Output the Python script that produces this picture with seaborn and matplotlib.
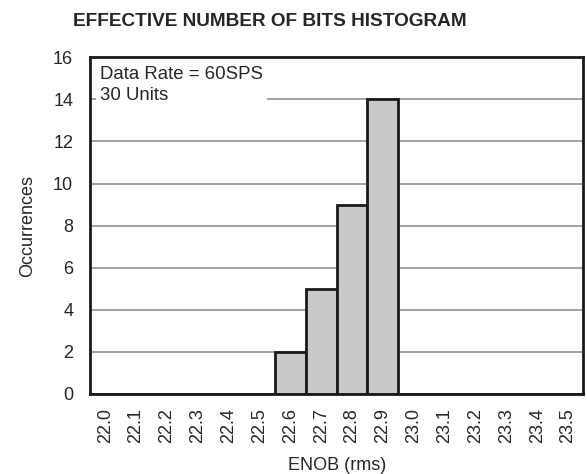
import numpy as np
import pandas as pd
import seaborn as sns
import matplotlib.pyplot as plt
from matplotlib.ticker import FixedLocator

bins = ["22.0", "22.1", "22.2", "22.3", "22.4", "22.5", "22.6", "22.7",
        "22.8", "22.9", "23.0", "23.1", "23.2", "23.3", "23.4", "23.5"]
occurrences = [0, 0, 0, 0, 0, 0, 2, 5, 9, 14, 0, 0, 0, 0, 0, 0]

df = pd.DataFrame({"enob": bins, "count": occurrences})

sns.set_style("white")
plt.rcParams['font.family'] = ['Liberation Sans', 'DejaVu Sans']

fig, ax = plt.subplots(figsize=[5.87, 4.74], dpi=100)
fig.subplots_adjust(left=0.153, right=0.994, top=0.879, bottom=0.169)

ax.set_axisbelow(True)
ax.yaxis.grid(True, color="#8a8a8a", linewidth=1.1)
sns.barplot(data=df, x="enob", y="count", width=1.0, color="#c8c9cb",
            saturation=1, edgecolor="#1a1a1a", linewidth=2, ax=ax)

ax.set_xlim(-0.5, len(bins) - 0.5)
ax.set_ylim(0, 16)
ax.set_yticks(np.arange(0, 17, 2))
ax.tick_params(axis="y", direction="in", length=4, width=1, labelsize=13, pad=12)
ax.set_xticks(range(len(bins)))
ax.set_xticklabels(bins, rotation=90)
ax.tick_params(axis="x", which="major", length=0, labelsize=13, pad=10)
ax.xaxis.set_minor_locator(FixedLocator(np.arange(-0.5, len(bins), 1)))
ax.tick_params(axis="x", which="minor", direction="out", length=4, width=1)

for s in ax.spines.values():
    s.set_linewidth(2)
    s.set_color("#1a1a1a")

ax.set_xlabel("ENOB (rms)", fontsize=13, labelpad=10)
ax.set_ylabel("Occurrences", fontsize=13, labelpad=12)
# title sits a little left of the axes centre in the original
fig.text(0.46, 0.955, "EFFECTIVE NUMBER OF BITS HISTOGRAM", fontsize=13.7,
         fontweight="bold", ha="center", va="center")

ax.text(0.02, 0.975, "Data Rate = 60SPS\n30 Units", transform=ax.transAxes,
        ha="left", va="top", fontsize=13.4, linespacing=1.35,
        bbox=dict(facecolor="white", edgecolor="none", pad=3))

fig.savefig("out.png", dpi=100)
